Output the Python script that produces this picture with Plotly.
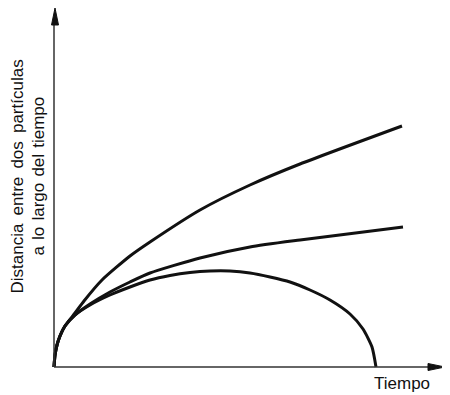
import plotly.graph_objects as go

# Data (time, distance) in arbitrary units
t_top = [0, 1, 3, 6, 11, 21, 30, 48, 76, 96, 146, 196, 246, 348]
d_top = [0, 12, 22, 31, 41, 54, 66, 87, 111, 125, 157, 182, 203, 241]

t_mid = [0, 1, 3, 6, 11, 21, 36, 56, 76, 96, 146, 196, 246, 349]
d_mid = [0, 12, 22, 31, 41, 52, 63, 75, 85, 94, 109, 120, 127, 140]

t_bot = [0, 1, 3, 6, 11, 21, 36, 56, 76, 96, 116, 136, 156, 176, 196, 216, 236, 256, 276, 296, 309, 318, 322]
d_bot = [0, 12, 22, 31, 41, 52, 62, 72, 80, 87, 91.5, 94.5, 96, 96, 94, 90, 85, 77, 67, 53, 38, 20, 0]

x_label = "Tiempo"
y_label_1 = "Distancia \u2009entre \u2009dos \u2009partículas"
y_label_2 = "a \u200alo \u200alargo \u200adel \u200atiempo"

fig = go.Figure()
for t, d in [(t_top, d_top), (t_mid, d_mid), (t_bot, d_bot)]:
    fig.add_trace(go.Scatter(
        x=t, y=d, mode="lines",
        line=dict(color="#111111", width=3, shape="spline", smoothing=0.6),
        hoverinfo="skip", showlegend=False,
    ))

axis_col = "#333333"
# axis lines
fig.add_shape(type="line", x0=0, y0=0, x1=0, y1=345, line=dict(color=axis_col, width=1.5))
fig.add_shape(type="line", x0=0, y0=0, x1=376, y1=0, line=dict(color=axis_col, width=1.5))
# arrowheads
fig.add_shape(type="path", path="M 1 359 L -2.5 342 L 4.5 342 Z",
              fillcolor="#111111", line=dict(color="#111111", width=1))
fig.add_shape(type="path", path="M 391 0 L 374 3.5 L 374 -3.5 Z",
              fillcolor="#111111", line=dict(color="#111111", width=1))

font = dict(family="Liberation Sans, Arial, sans-serif", size=17, color="#111111")
fig.add_annotation(x=348, y=-16, text=x_label, showarrow=False, font=font,
                   xanchor="center", yanchor="middle")
fig.add_annotation(x=-37.5, y=190, text=y_label_1, showarrow=False, font=font,
                   textangle=-90, xanchor="center", yanchor="middle")
fig.add_annotation(x=-16.5, y=191, text=y_label_2, showarrow=False, font=font,
                   textangle=-90, xanchor="center", yanchor="middle")

# page body has an 8px margin, so the ranges are shifted to compensate
fig.update_layout(
    width=450, height=395,
    margin=dict(l=0, r=0, t=0, b=0),
    paper_bgcolor="white", plot_bgcolor="white",
    xaxis=dict(range=[-46, 404], visible=False, fixedrange=True),
    yaxis=dict(range=[-36, 359], visible=False, fixedrange=True),
)

fig.write_html("out.html")
